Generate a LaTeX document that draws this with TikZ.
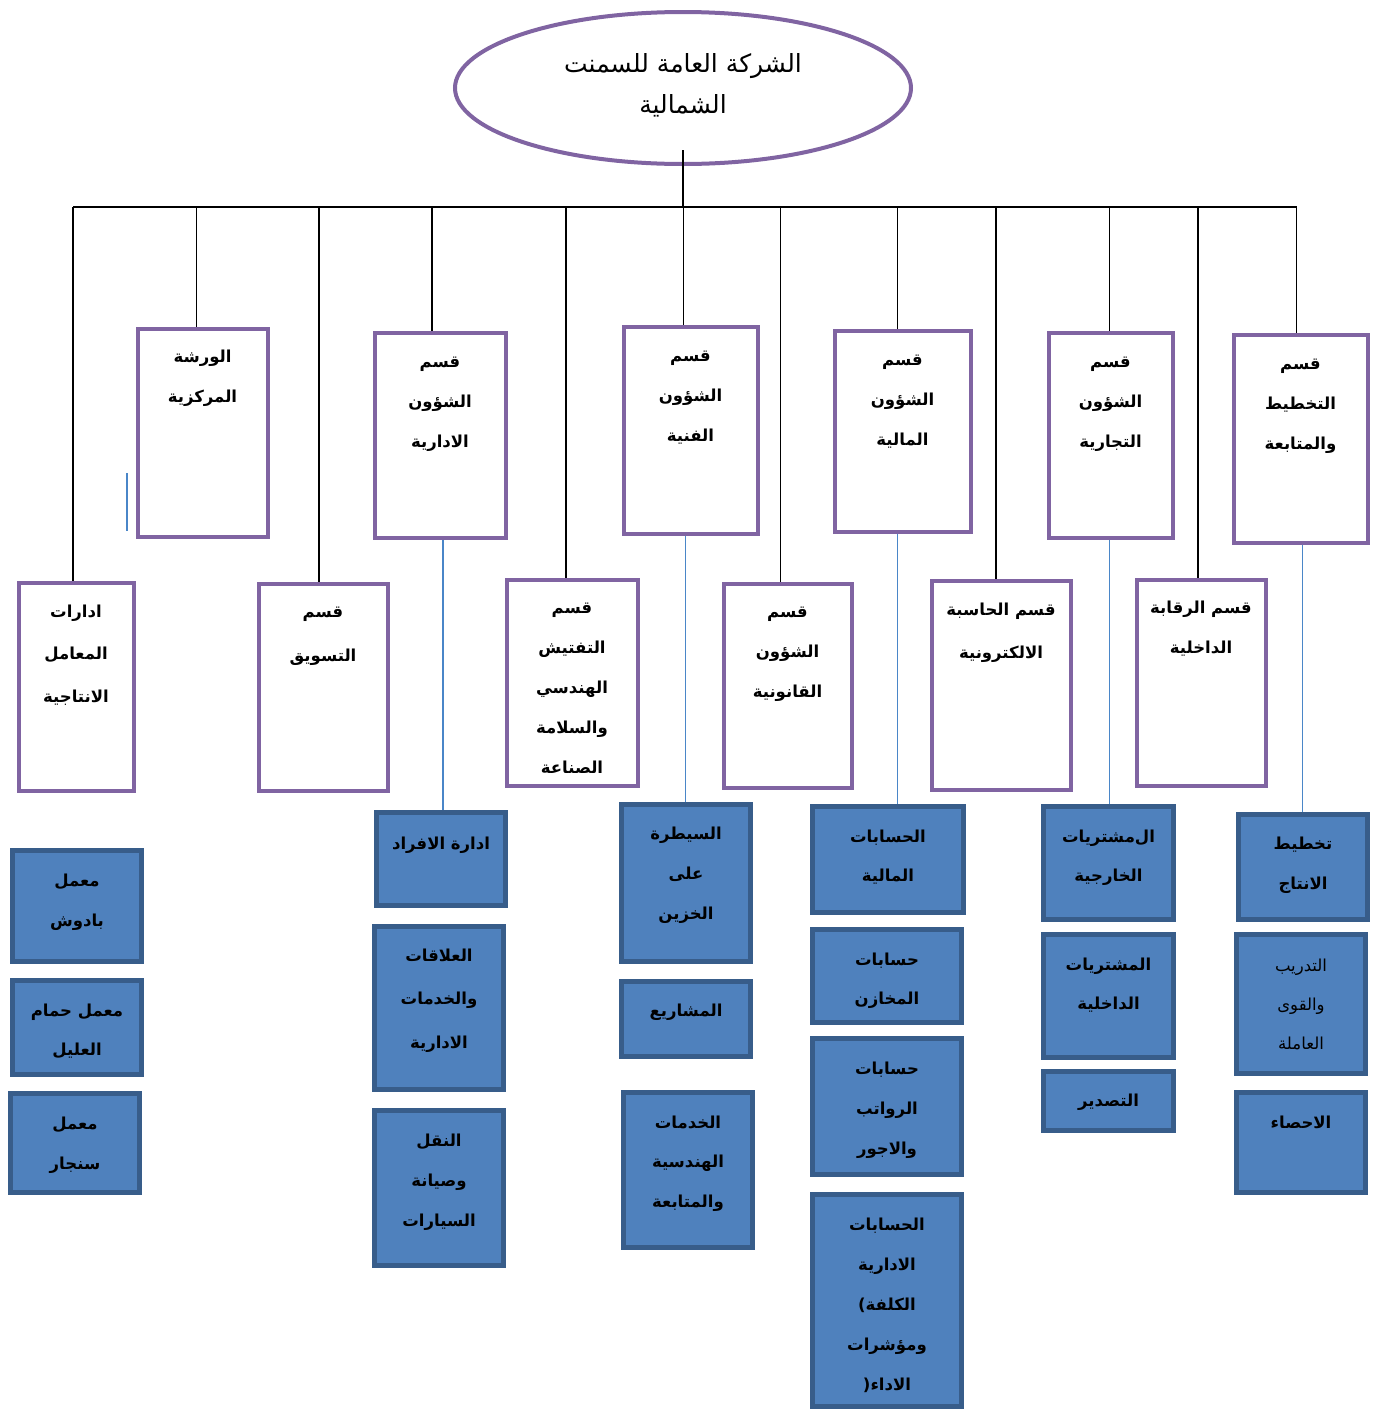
\documentclass[tikz,border=0pt]{standalone}
\usepackage{fontspec}
\usetikzlibrary{shapes.geometric}
\TeXXeTstate=1
\newfontfamily\arf[Script=Arabic]{DejaVu Sans}
\newfontfamily\latf{DejaVu Sans}
\newcommand\AR[1]{\beginR #1\endR}
\newcommand\LP[1]{{\latf\bfseries #1}}
\definecolor{purp}{HTML}{8064A2}
\definecolor{bfill}{HTML}{4F81BD}
\definecolor{bedge}{HTML}{385D8A}
\definecolor{bline}{HTML}{4A86C8}
\newcommand\Bx[6]{\node[#1, minimum width={#5-#3-5}, minimum height={#6-#4-5}] (#2) at ({(#3+#5)/2},{(#4+#6)/2}) {};}
\newcommand\Lb[4][]{\node[lbl,#1] (#2-t) at (#2.north |- 0,{#3-11}) {\rule{0pt}{15pt}#4};}
\begin{document}
\begin{tikzpicture}[x=1pt,y=-1pt,
  pbox/.style={draw=purp, line width=4pt, fill=white, inner sep=0pt},
  bbox/.style={draw=bedge, fill=bfill, line width=5pt, inner sep=0pt},
  lbl/.style={font=\arf\bfseries\fontsize{16.5}{40}\selectfont, align=center, inner sep=0pt, anchor=north},
  reg/.style={font=\arf\fontsize{16.5}{39}\selectfont},
  blk/.style={draw=black, line width=1.6pt},
  bln/.style={draw=bline, line width=1.5pt}]
\clip (0,0) rectangle (1383,1409);
\fill[white] (0,0) rectangle (1383,1409);
% root
\node[ellipse, draw=purp, line width=4pt, minimum width=456pt, minimum height=152pt, inner sep=0pt] (root) at (683,88) {};
\node[font=\arf\fontsize{25}{41}\selectfont, align=center, inner sep=0pt, anchor=north] (root-t) at (683,49) {\rule{0pt}{23pt}\AR{الشركة العامة للسمنت}\\\AR{الشمالية}};
% upper purple boxes
\Bx{pbox}{wrk}{135}{326}{270}{539}
\Bx{pbox}{adm}{372}{330}{508}{540}
\Bx{pbox}{tech}{621}{324}{760}{536}
\Bx{pbox}{fin}{832}{328}{973}{534}
\Bx{pbox}{com}{1046}{330}{1175}{540}
\Bx{pbox}{plan}{1231}{332}{1370}{545}
% lower purple boxes
\Bx{pbox}{lab}{16}{580}{136}{793}
\Bx{pbox}{mkt}{256}{581}{390}{793}
\Bx{pbox}{insp}{504}{577}{640}{788}
\Bx{pbox}{law}{721}{581}{854}{790}
\Bx{pbox}{comp}{929}{578}{1073}{792}
\Bx{pbox}{audit}{1134}{577}{1268}{788}
% blue boxes
\Bx{bbox}{c1a}{10}{848}{144}{964}
\Bx{bbox}{c1b}{10}{978}{144}{1077}
\Bx{bbox}{c1c}{8}{1091}{142}{1195}
\Bx{bbox}{c2a}{374}{810}{508}{908}
\Bx{bbox}{c2b}{372}{924}{506}{1092}
\Bx{bbox}{c2c}{372}{1108}{506}{1268}
\Bx{bbox}{c3a}{619}{802}{753}{964}
\Bx{bbox}{c3b}{619}{979}{753}{1059}
\Bx{bbox}{c3c}{621}{1090}{755}{1250}
\Bx{bbox}{c4a}{810}{804}{966}{915}
\Bx{bbox}{c4b}{810}{927}{964}{1025}
\Bx{bbox}{c4c}{810}{1036}{964}{1177}
\Bx{bbox}{c4d}{810}{1192}{964}{1409}
\Bx{bbox}{c5a}{1041}{804}{1176}{922}
\Bx{bbox}{c5b}{1041}{932}{1176}{1060}
\Bx{bbox}{c5c}{1041}{1069}{1176}{1133}
\Bx{bbox}{c6a}{1236}{812}{1370}{922}
\Bx{bbox}{c6b}{1234}{932}{1368}{1076}
\Bx{bbox}{c6c}{1234}{1090}{1368}{1195}
% labels upper
\Lb{wrk}{358}{\AR{الورشة}\\\AR{المركزية}}
\Lb{adm}{363}{\AR{قسم}\\\AR{الشؤون}\\\AR{الادارية}}
\Lb{tech}{357}{\AR{قسم}\\\AR{الشؤون}\\\AR{الفنية}}
\Lb{fin}{361}{\AR{قسم}\\\AR{الشؤون}\\\AR{المالية}}
\Lb{com}{363}{\AR{قسم}\\\AR{الشؤون}\\\AR{التجارية}}
\Lb{plan}{365}{\AR{قسم}\\\AR{التخطيط}\\\AR{والمتابعة}}
% labels lower
\Lb[font=\arf\bfseries\fontsize{16.5}{42.5}\selectfont]{lab}{613}{\AR{ادارات}\\\AR{المعامل}\\\AR{الانتاجية}}
\Lb[font=\arf\bfseries\fontsize{16.5}{44}\selectfont]{mkt}{613}{\AR{قسم}\\\AR{التسويق}}
\Lb{insp}{609}{\AR{قسم}\\\AR{التفتيش}\\\AR{الهندسي}\\\AR{والسلامة}\\\AR{الصناعة}}
\Lb{law}{613}{\AR{قسم}\\\AR{الشؤون}\\\AR{القانونية}}
\Lb[font=\arf\bfseries\fontsize{16.5}{43}\selectfont]{comp}{611}{\AR{قسم الحاسبة}\\\AR{الالكترونية}}
\Lb{audit}{609}{\AR{قسم الرقابة}\\\AR{الداخلية}}
% labels blue
\Lb{c1a}{882}{\AR{معمل}\\\AR{بادوش}}
\Lb[font=\arf\bfseries\fontsize{16.5}{39}\selectfont]{c1b}{1012}{\AR{معمل حمام}\\\AR{العليل}}
\Lb{c1c}{1125}{\AR{معمل}\\\AR{سنجار}}
\Lb{c2a}{845}{\AR{ادارة الافراد}}
\Lb[font=\arf\bfseries\fontsize{16.5}{43.5}\selectfont]{c2b}{957}{\AR{العلاقات}\\\AR{والخدمات}\\\AR{الادارية}}
\Lb{c2c}{1142}{\AR{النقل}\\\AR{وصيانة}\\\AR{السيارات}}
\Lb{c3a}{835}{\AR{السيطرة}\\\AR{على}\\\AR{الخزين}}
\Lb{c3b}{1012}{\AR{المشاريع}}
\Lb[font=\arf\bfseries\fontsize{16.5}{39.5}\selectfont]{c3c}{1124}{\AR{الخدمات}\\\AR{الهندسية}\\\AR{والمتابعة}}
\Lb[font=\arf\bfseries\fontsize{16.5}{39}\selectfont]{c4a}{838}{\AR{الحسابات}\\\AR{المالية}}
\Lb[font=\arf\bfseries\fontsize{16.5}{39}\selectfont]{c4b}{961}{\AR{حسابات}\\\AR{المخازن}}
\Lb{c4c}{1070}{\AR{حسابات}\\\AR{الرواتب}\\\AR{والاجور}}
\Lb{c4d}{1226}{\AR{الحسابات}\\\AR{الادارية}\\\LP{(}\AR{الكلفة}\\\AR{ومؤشرات}\\\LP{)}\AR{الاداء}}
\Lb[font=\arf\bfseries\fontsize{16.5}{39}\selectfont]{c5a}{838}{\AR{ال‌مشتريات}\\\AR{الخارجية}}
\Lb[font=\arf\bfseries\fontsize{16.5}{39}\selectfont]{c5b}{966}{\AR{المشتريات}\\\AR{الداخلية}}
\Lb{c5c}{1102}{\AR{التصدير}}
\Lb{c6a}{845}{\AR{تخطيط}\\\AR{الانتاج}}
\Lb[reg]{c6b}{967}{\AR{التدريب}\\\AR{والقوى}\\\AR{العاملة}}
\Lb{c6c}{1124}{\AR{الاحصاء}}
% black connectors
\coordinate (rt) at (683,150);
\coordinate (busL) at ([xshift=-3pt]lab.north |- 0,207);
\coordinate (busR) at ([xshift=-4pt]plan.north |- 0,207);
\draw[blk] (rt) -- (rt |- busL);
\draw[blk] (busL) -- (busR);
\draw[blk] ([xshift=-3pt]lab.north |- busL) -- ([xshift=-3pt]lab.north);
\draw[blk] ([xshift=-6pt]wrk.north |- busL) -- ([xshift=-6pt]wrk.north);
\draw[blk] ([xshift=-4pt]mkt.north |- busL) -- ([xshift=-4pt]mkt.north);
\draw[blk] ([xshift=-8pt]adm.north |- busL) -- ([xshift=-8pt]adm.north);
\draw[blk] ([xshift=-6pt]insp.north |- busL) -- ([xshift=-6pt]insp.north);
\draw[blk] ([xshift=-7pt]tech.north |- busL) -- ([xshift=-7pt]tech.north);
\draw[blk] ([xshift=-7pt]law.north |- busL) -- ([xshift=-7pt]law.north);
\draw[blk] ([xshift=-5pt]fin.north |- busL) -- ([xshift=-5pt]fin.north);
\draw[blk] ([xshift=-5pt]comp.north |- busL) -- ([xshift=-5pt]comp.north);
\draw[blk] ([xshift=-1pt]com.north |- busL) -- ([xshift=-1pt]com.north);
\draw[blk] ([xshift=-3pt]audit.north |- busL) -- ([xshift=-3pt]audit.north);
\draw[blk] ([xshift=-4pt]plan.north |- busL) -- ([xshift=-4pt]plan.north);
% blue connectors
\draw[bln] ([xshift=3pt]adm.south) -- ([xshift=3pt]adm.south |- c2a.north);
\draw[bln] ([xshift=-5pt]tech.south) -- ([xshift=-5pt]tech.south |- c3a.north);
\draw[bln] ([xshift=-5pt]fin.south) -- ([xshift=-5pt]fin.south |- c4a.north);
\draw[bln] ([xshift=-1pt]com.south) -- ([xshift=-1pt]com.south |- c5a.north);
\draw[bln] ([xshift=2pt]plan.south) -- ([xshift=2pt]plan.south |- c6a.north);
\coordinate (st1) at (127,473);
\coordinate (st2) at (127,531);
\draw[bln] (st1) -- (st2);
\end{tikzpicture}
\end{document}
